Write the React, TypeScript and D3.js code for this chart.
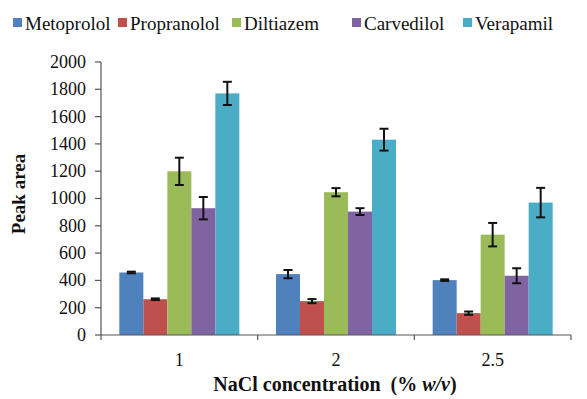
import React from "react";
import * as d3 from "d3";

const categories = ["1", "2", "2.5"];
const seriesNames = ["Metoprolol", "Propranolol", "Diltiazem", "Carvedilol", "Verapamil"];
const colors = ["#4F81BD", "#C0504D", "#9BBB59", "#8064A2", "#4BACC6"];
// values[series][category]
const metoprolol = [458, 446, 402];
const propranolol = [262, 248, 160];
const diltiazem = [1199, 1046, 735];
const carvedilol = [929, 904, 434];
const verapamil = [1770, 1431, 970];
const metoprololErr = [6, 30, 6];
const propranololErr = [6, 15, 12];
const diltiazemErr = [100, 30, 86];
const carvedilolErr = [82, 25, 55];
const verapamilErr = [85, 80, 108];
const yTicks = [0, 200, 400, 600, 800, 1000, 1200, 1400, 1600, 1800, 2000];

const values = [metoprolol, propranolol, diltiazem, carvedilol, verapamil];
const errors = [metoprololErr, propranololErr, diltiazemErr, carvedilolErr, verapamilErr];

export default function App() {
  const W = 587, H = 399;
  const left = 101, right = 571, top = 62, bottom = 335;
  const x = d3.scaleBand<string>().domain(categories).range([left, right]).paddingInner(0).paddingOuter(0);
  const y = d3.scaleLinear().domain([0, 2000]).range([bottom, top]);
  const groupW = 120;
  const inner = d3.scaleBand<number>().domain(d3.range(seriesNames.length)).range([0, groupW]).padding(0);
  const font = "Liberation Serif, DejaVu Serif, serif";
  const legendX = [13, 118, 232, 352, 463];
  return (
    <svg width={W} height={H} style={{ position: "absolute", left: 0, top: 0, fontFamily: font }}>
      <rect width={W} height={H} fill="#fff" />
      {/* legend */}
      {seriesNames.map((n, i) => (
        <g key={n}>
          <rect x={legendX[i]} y={18} width={9} height={9} fill={colors[i]} />
          <text x={legendX[i] + 12} y={30} fontSize={19} fill="#111" style={{ fontFamily: font }}>{n}</text>
        </g>
      ))}
      {/* bars */}
      {categories.map((c, ci) => {
        const gx = (x(c) as number) + (x.bandwidth() - groupW) / 2;
        return (
          <g key={c}>
            {values.map((vals, si) => {
              const bx = gx + (inner(si) as number);
              const bw = inner.bandwidth();
              const v = vals[ci];
              const e = errors[si][ci];
              const cx = bx + bw / 2;
              return (
                <g key={si}>
                  <rect x={bx} y={y(v)} width={bw} height={y(0) - y(v)} fill={colors[si]} />
                  <line x1={cx} x2={cx} y1={y(v + e)} y2={y(v - e)} stroke="#111" strokeWidth={2} />
                  <line x1={cx - 4.5} x2={cx + 4.5} y1={y(v + e)} y2={y(v + e)} stroke="#111" strokeWidth={2} />
                  <line x1={cx - 4.5} x2={cx + 4.5} y1={y(v - e)} y2={y(v - e)} stroke="#111" strokeWidth={2} />
                </g>
              );
            })}
          </g>
        );
      })}
      {/* y axis */}
      <line x1={left} x2={left} y1={top} y2={bottom} stroke="#555" strokeWidth={1.2} />
      {yTicks.map((t) => (
        <g key={t}>
          <line x1={left - 6} x2={left} y1={y(t)} y2={y(t)} stroke="#555" strokeWidth={1.2} />
          <text x={86} y={y(t)} dy="0.33em" textAnchor="end" fontSize={18} fill="#111" style={{ fontFamily: font }}>{t}</text>
        </g>
      ))}
      {/* x axis */}
      <line x1={left} x2={right} y1={bottom} y2={bottom} stroke="#555" strokeWidth={1.2} />
      {[left, ...categories.map((c) => (x(c) as number) + x.bandwidth())].map((p, i) => (
        <line key={i} x1={p} x2={p} y1={bottom} y2={bottom + 5} stroke="#555" strokeWidth={1.2} />
      ))}
      {categories.map((c) => (
        <text key={c} x={(x(c) as number) + x.bandwidth() / 2} y={366} textAnchor="middle" fontSize={18} fill="#111" style={{ fontFamily: font }}>{c}</text>
      ))}
      <text x={335} y={391} textAnchor="middle" fontSize={20} fontWeight="bold" fill="#111" xmlSpace="preserve" style={{ fontFamily: font, whiteSpace: "pre" }}>
        {"NaCl concentration  (% "}<tspan fontStyle="italic">w/v</tspan>)
      </text>
      <text transform={`translate(25, 194) rotate(-90)`} textAnchor="middle" fontSize={19} fontWeight="bold" fill="#111" style={{ fontFamily: font }}>Peak area</text>
    </svg>
  );
}
